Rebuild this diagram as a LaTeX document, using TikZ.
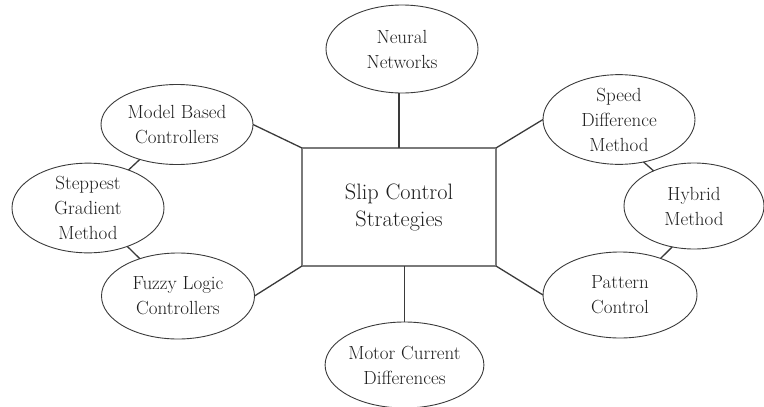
\documentclass[tikz,border=0pt]{standalone}
\usetikzlibrary{shapes.geometric}
\definecolor{inkline}{HTML}{3A3A3A}
\definecolor{boxline}{HTML}{7A7A7A}
\definecolor{textink}{HTML}{1E1E1E}
\begin{document}
\begin{tikzpicture}[x=1pt,y=-1pt,
  idea/.style={ellipse, draw=inkline, line width=0.9pt, inner sep=0pt, outer sep=0pt,
    align=center, text=textink, font=\fontsize{19}{25}\selectfont},
  hub/.style={rectangle, draw=boxline, line width=1.8pt, inner sep=0pt, outer sep=0pt,
    minimum width=194pt, minimum height=118pt, align=center, text=textink,
    font=\fontsize{22.3}{27}\selectfont},
  link/.style={draw=inkline, line width=1.3pt}]
\useasboundingbox (0,0) rectangle (764,407);

% central box
\node[hub] (box) at (399,207) {Slip Control\\Strategies};

% surrounding ellipses
\node[idea, minimum width=152pt, minimum height=88pt] (neural) at (402,49) {Neural\\Networks};
\node[idea, minimum width=152pt, minimum height=80pt] (model) at (177,124.5) {Model Based\\Controllers};
\node[idea, minimum width=152pt, minimum height=88pt] (steep) at (88,208) {Steppest\\Gradient\\Method};
\node[idea, minimum width=153pt, minimum height=86pt] (fuzzy) at (178,296) {Fuzzy Logic\\Controllers};
\node[idea, minimum width=155pt, minimum height=86pt] (motor) at (404.5,365) {Motor Current\\Differences};
\node[idea, minimum width=152pt, minimum height=87pt] (speed) at (619,119.5) {Speed\\Difference\\Method};
\node[idea, minimum width=140pt, minimum height=86pt] (hybrid) at (694,206) {Hybrid\\Method};
\node[idea, minimum width=154pt, minimum height=86pt] (pattern) at (620,295) {Pattern\\Control};

% connectors to the central box
\draw[link] (box.north) -- (box.north |- neural.south);
\draw[link] (model.east) -- (box.north west);
\draw[link] (fuzzy.east) -- (box.south west);
\draw[link] (speed.west) -- (box.north east);
\draw[link] (pattern.west) -- (box.south east);
\draw[link] (motor.north) -- (motor.north |- box.south);

% connectors between neighbouring ellipses
\draw[link] (model) -- (steep);
\draw[link] (steep) -- (fuzzy);
\draw[link] (speed.-60) -- (hybrid.139);
\draw[link] (hybrid.-118) -- (pattern.42);
\end{tikzpicture}
\end{document}
